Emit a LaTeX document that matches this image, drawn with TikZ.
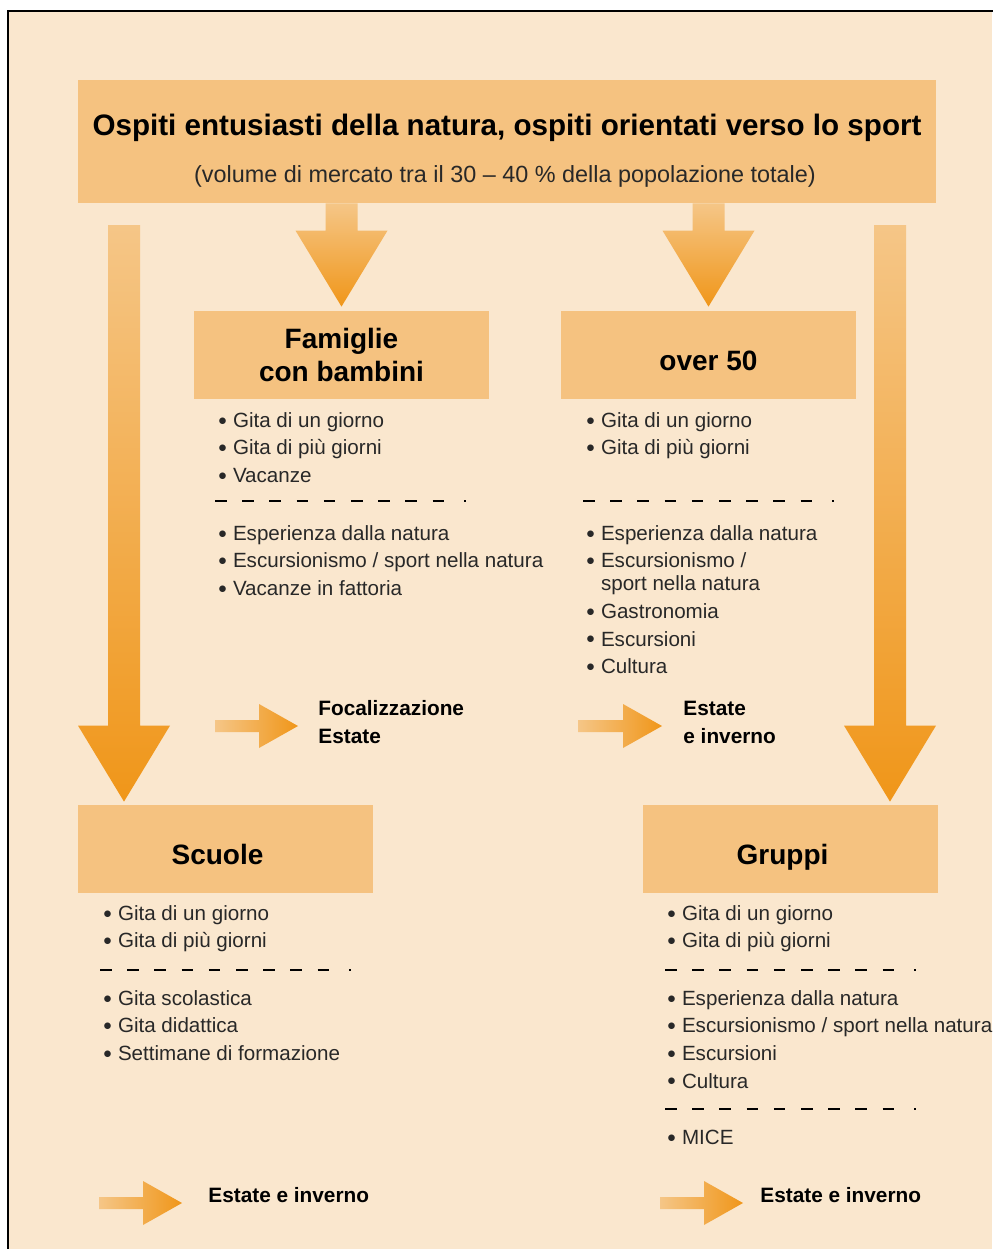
\documentclass[tikz,border=0pt]{standalone}
\usepackage{fontspec}
\setmainfont{Liberation Sans}
\usetikzlibrary{calc}
\definecolor{bgpeach}{RGB}{250,231,206}
\definecolor{boxorange}{RGB}{245,194,128}
\definecolor{arrowlight}{RGB}{245,198,135}
\definecolor{arrowdark}{RGB}{240,150,25}
\definecolor{listgray}{RGB}{40,40,40}
\newcommand{\itm}{\makebox[7.3pt][l]{\raisebox{1.1pt}{\scalebox{0.85}{$\bullet$}}}}
% fat arrow pointing down: from #1 to tip #2
\newcommand{\fatdown}[2]{%
  \shade[top color=arrowlight, bottom color=arrowdark]
    let \p1=(#1), \p2=(#2) in
    (\x1-8pt,\y1) -- (\x1+8pt,\y1) -- (\x1+8pt,\y2+38pt)
    -- (\x1+23pt,\y2+38pt) -- (\x1,\y2) -- (\x1-23pt,\y2+38pt)
    -- (\x1-8pt,\y2+38pt) -- cycle;}
% small fat arrow pointing right: from #1 to the x of #2
\newcommand{\fatright}[2]{%
  \shade[left color=arrowlight, right color=arrowdark]
    let \p1=(#1), \p2=(#2) in
    (\x1,\y1+3pt) -- (\x2-19.5pt,\y1+3pt) -- (\x2-19.5pt,\y1+11pt)
    -- (\x2,\y1) -- (\x2-19.5pt,\y1-11pt) -- (\x2-19.5pt,\y1-3pt)
    -- (\x1,\y1-3pt) -- cycle;}

\begin{document}
\begin{tikzpicture}[
    x=0.5pt, y=-0.5pt,
    bar/.style={fill=boxorange, inner sep=0pt},
    head/.style={bar, minimum width=147.5pt, minimum height=44pt, align=center,
                 font=\fontsize{14}{16.7}\selectfont\bfseries},
    head1/.style={head, text height=15.5pt, text depth=0pt},
    items/.style={anchor=north west, inner sep=0pt, align=left, text=listgray,
                  font=\fontsize{10.3}{13.8}\selectfont},
    note/.style={anchor=west, inner sep=0pt, align=left,
                 font=\fontsize{10.4}{14}\selectfont\bfseries},
    sep/.style={line width=1pt, dash pattern=on 5.8pt off 7.8pt on 5.8pt off 7.8pt
                on 5.8pt off 7.8pt on 5.8pt off 7.8pt on 5.8pt off 7.8pt on 5.8pt off 7.8pt
                on 5.8pt off 7.8pt on 5.8pt off 7.8pt on 5.8pt off 10pt on 1pt off 50pt},
  ]
    \useasboundingbox (0,0) rectangle (992,1249);
    \fill[bgpeach] (8,11) rectangle (992,1249);
    \draw[line width=1.3pt] (8,1260) |- (1000,11);

    % Top box
    \node[bar, minimum width=429pt, minimum height=61.5pt] (top) at (507,141.5) {};
    \node[anchor=base, font=\fontsize{14.8}{18}\selectfont\bfseries] (title) at (507,135)
      {Ospiti entusiasti della natura, ospiti orientati verso lo sport};
    \node[anchor=base, text=listgray, font=\fontsize{11.7}{14}\selectfont] (subtitle) at (505,182)
      {(volume di mercato tra il 30 -- 40 \% della popolazione totale)};

    % Target groups
    \node[head] (famiglie) at (341.5,355) {Famiglie\\con bambini};
    \node[head1] (over) at (708.5,355) {over 50};
    \node[head1] (scuole) at (225.5,849) {Scuole\hspace*{8pt}};
    \node[head1] (gruppi) at (790.5,849) {Gruppi\hspace*{8pt}};

    % Arrows
    \coordinate (lstart) at (124,225);
    \coordinate (rstart) at (890,225);
    \fatdown{top.south -| famiglie.north}{$(famiglie.north)+(0,-4)$}
    \fatdown{top.south -| over.north}{$(over.north)+(0,-4)$}
    \fatdown{lstart}{$(lstart |- scuole.north)+(0,-3)$}
    \fatdown{rstart}{$(rstart |- gruppi.north)+(0,-3)$}

    % Famiglie
    \node[items] (famA) at (218,412) {\itm Gita di un giorno\\\itm Gita di più giorni\\\itm Vacanze};
    \draw[sep] (215,501) -- ++(252,0);
    \node[items] (famB) at (218,525) {\itm Esperienza dalla natura\\
      \itm Escursionismo / sport nella natura\\\itm Vacanze in fattoria};

    % over 50
    \node[items] (overA) at (586,412) {\itm Gita di un giorno\\\itm Gita di più giorni};
    \draw[sep] (583,501) -- ++(252,0);
    \node[items] (overB) at (586,525) {\itm Esperienza dalla natura\\
      \itm Escursionismo /\\[-2.3pt]\hspace*{7.3pt}sport nella natura\\
      \itm Gastronomia\\\itm Escursioni\\\itm Cultura};

    % Scuole
    \node[items] (scuoleA) at (103,905) {\itm Gita di un giorno\\\itm Gita di più giorni};
    \draw[sep] (100,970) -- ++(252,0);
    \node[items] (scuoleB) at (103,990) {\itm Gita scolastica\\\itm Gita didattica\\
      \itm Settimane di formazione};

    % Gruppi
    \node[items] (gruppiA) at (667,905) {\itm Gita di un giorno\\\itm Gita di più giorni};
    \draw[sep] (665,970) -- ++(252,0);
    \node[items] (gruppiB) at (667,990) {\itm Esperienza dalla natura\\
      \itm Escursionismo / sport nella natura\\\itm Escursioni\\\itm Cultura};
    \draw[sep] (665,1109) -- ++(252,0);
    \node[items] (gruppiC) at (667,1130) {\itm MICE};

    % Season notes
    \node[note] (famtime) at (318,722) {Focalizzazione\\Estate};
    \node[note] (overtime) at (683,722) {Estate\\e inverno};
    \node[note] (scuoletime) at (208,1195.5) {Estate e inverno};
    \node[note] (gruppitime) at (760,1195.5) {Estate e inverno};
    \coordinate (famarr) at (215,726);
    \coordinate (overarr) at (578,726);
    \coordinate (scuolearr) at (99,1203);
    \coordinate (gruppiarr) at (660,1203);
    \fatright{famarr}{$(famtime.west)+(-20,0)$}
    \fatright{overarr}{$(overtime.west)+(-21,0)$}
    \fatright{scuolearr}{$(scuoletime.west)+(-26,0)$}
    \fatright{gruppiarr}{$(gruppitime.west)+(-17,0)$}
\end{tikzpicture}
\end{document}
